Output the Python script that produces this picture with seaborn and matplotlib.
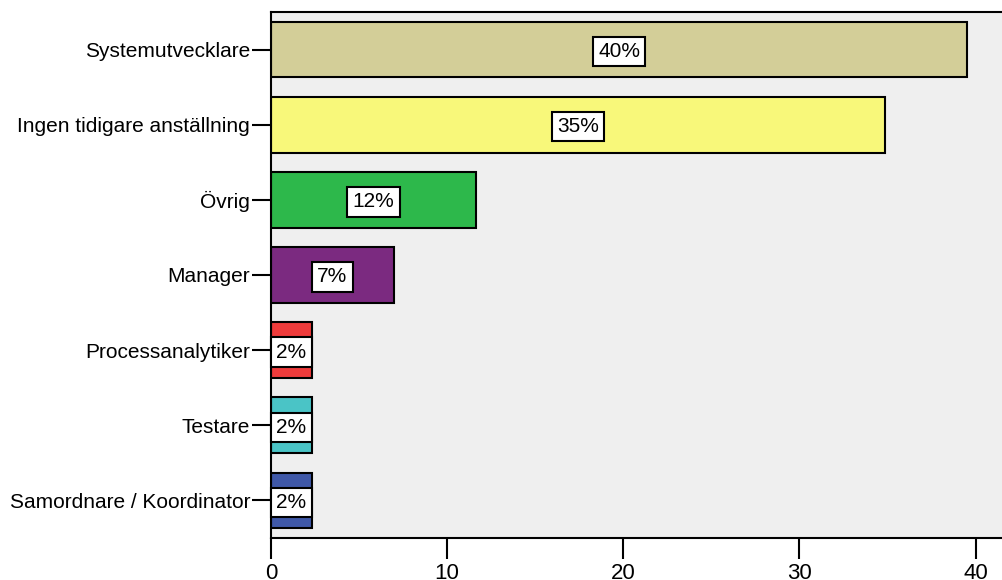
import matplotlib
matplotlib.use("Agg")
import matplotlib.pyplot as plt
import seaborn as sns
import pandas as pd

categories = ["Systemutvecklare", "Ingen tidigare anställning", "Övrig", "Manager",
              "Processanalytiker", "Testare", "Samordnare / Koordinator"]
values = [39.53, 34.88, 11.63, 6.98, 2.33, 2.33, 2.33]
labels = ["40%", "35%", "12%", "7%", "2%", "2%", "2%"]
colors = ["#D3CE98", "#F8F87A", "#2DB84B", "#7B2A80", "#EE3B3B", "#4AC4C6", "#3F58A8"]
xticks = [0, 10, 20, 30, 40]

sns.set_theme(style="white")
plt.rcParams['font.family'] = ['Liberation Sans', 'DejaVu Sans']
plt.rcParams['text.color'] = 'black'
plt.rcParams['xtick.color'] = 'black'
plt.rcParams['ytick.color'] = 'black'

df = pd.DataFrame({"cat": categories, "val": values})

fig = plt.figure(figsize=(10.02, 5.8), dpi=100)
ax = fig.add_axes([271/1002, 1 - 538/580, 1 - 271/1002, (538 - 12)/580])
ax.set_facecolor("#EFEFEF")

sns.barplot(data=df, y="cat", x="val", hue="cat", palette=colors, saturation=1,
            orient="h", width=0.74, edgecolor="black", linewidth=1.5, legend=False, ax=ax)

for i, (v, lab) in enumerate(zip(values, labels)):
    ax.text(v / 2, i, lab, ha="center", va="center_baseline", fontsize=15, color="black",
            bbox=dict(boxstyle="square,pad=0.25", fc="white", ec="black", lw=1.5))

ax.set_xlim(0, 41.5)
ax.set_ylim(6.5, -0.5)
ax.set_xticks(xticks)
ax.set_xlabel("")
ax.set_ylabel("")
ax.tick_params(axis="x", direction="out", length=15, width=1.5, labelsize=16, pad=3,
               bottom=True, colors="black")
ax.tick_params(axis="y", direction="out", length=14, width=1.5, labelsize=15, pad=1,
               left=True, colors="black")
for s in ["top", "left", "bottom"]:
    ax.spines[s].set_visible(True)
    ax.spines[s].set_color("black")
    ax.spines[s].set_linewidth(1.5)
ax.spines["right"].set_visible(False)

fig.savefig("out.png", dpi=100)
